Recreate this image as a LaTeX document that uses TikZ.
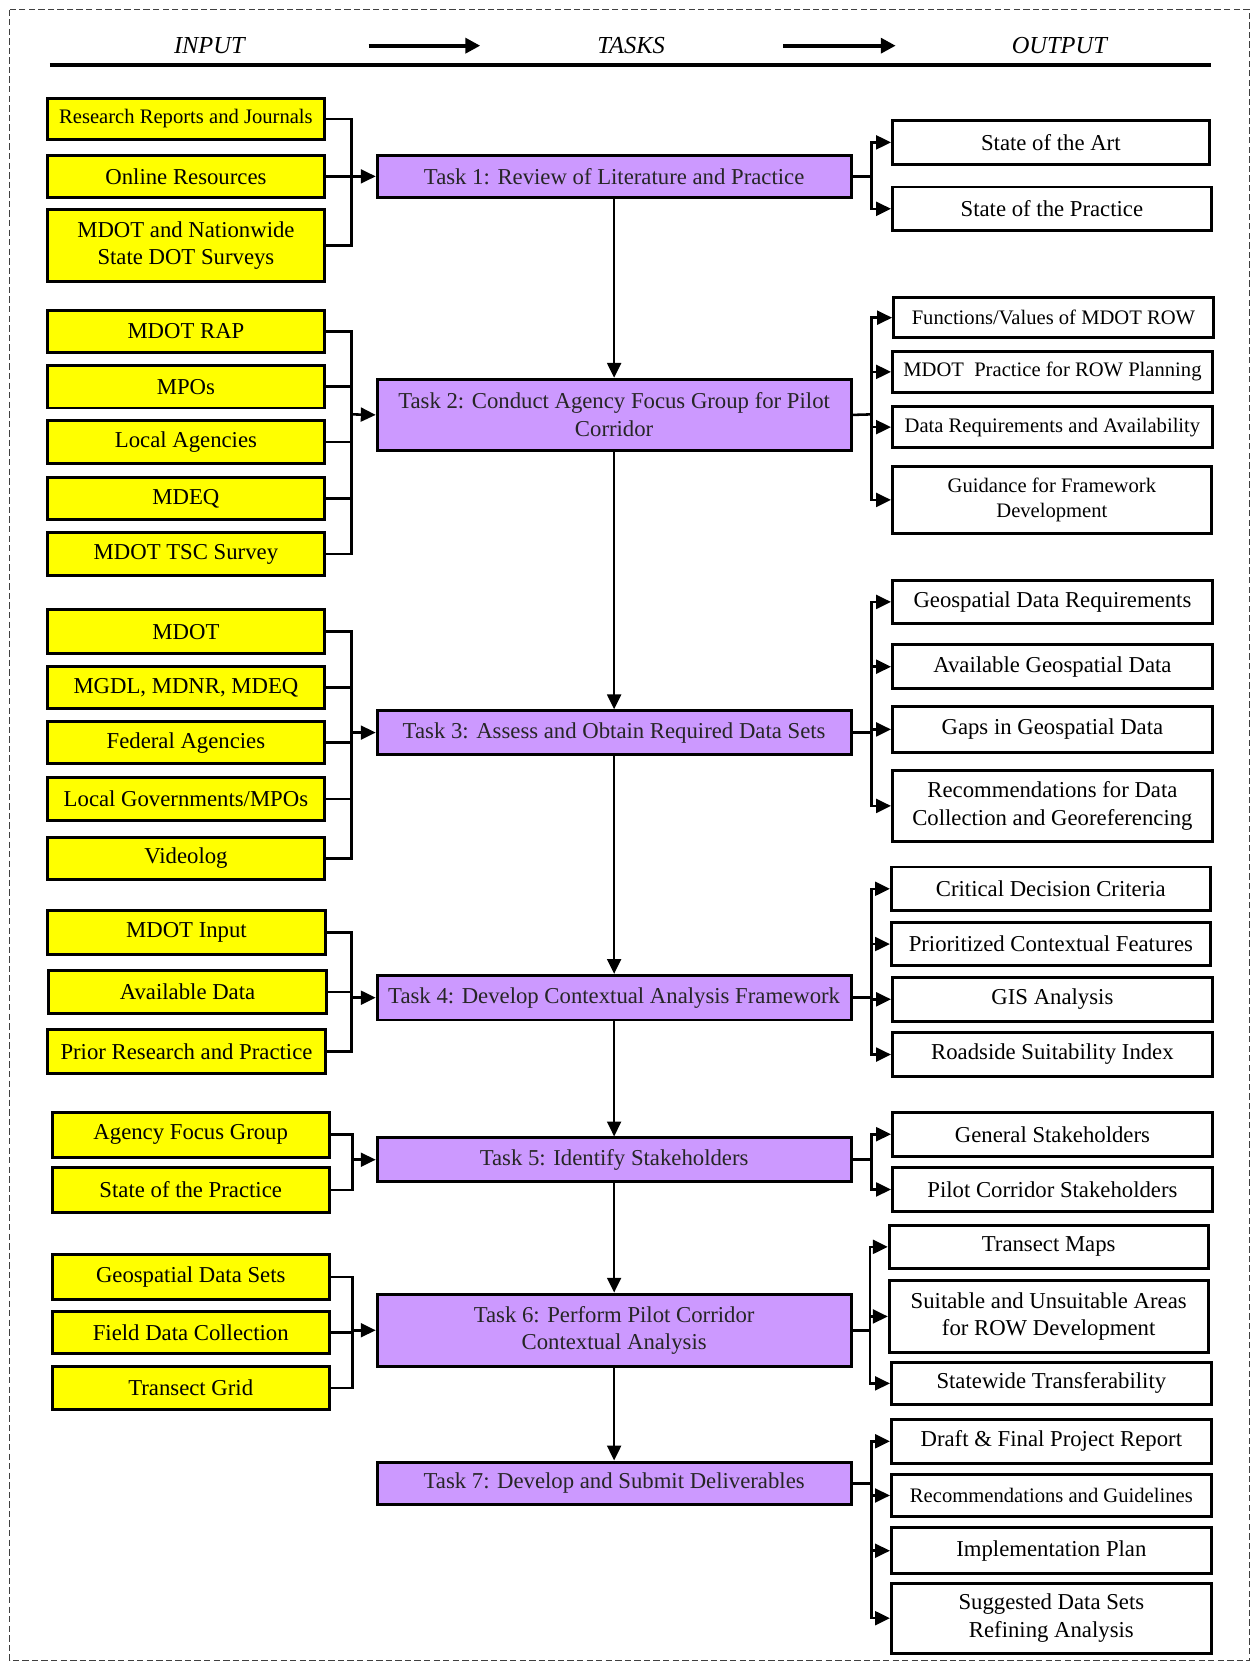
\documentclass[tikz,border=0pt]{standalone}
\usepackage{fontspec}
\setmainfont{Liberation Serif}
\usetikzlibrary{arrows.meta}
\definecolor{inyel}{RGB}{255,255,0}
\definecolor{tskpur}{RGB}{204,153,255}
\newcommand{\mybx}[7]{%
 \pgfmathsetmacro{\mybxcx}{(#3+#5)/2}%
 \pgfmathsetmacro{\mybxcy}{(#4+#6)/2}%
 \pgfmathsetmacro{\mybxw}{(#5-#3)*0.5}%
 \pgfmathsetmacro{\mybxh}{(#6-#4)*0.5}%
 \node[#2, minimum width=\mybxw pt, minimum height=\mybxh pt] (#1) at (\mybxcx,\mybxcy) {#7};}
\begin{document}
\begin{tikzpicture}[x=0.5pt,y=-0.5pt,
  basebox/.style={draw, line width=1.4pt, inner sep=0pt, align=center, font=\fontsize{10.7}{13}\selectfont},
  inbox/.style={basebox, fill=inyel},
  taskbox/.style={basebox, fill=tskpur, text=black!85},
  outbox/.style={basebox, fill=white},
  smalltxt/.style={font=\fontsize{9.7}{12}\selectfont},
  conn/.style={line width=1.2pt},
  arr/.style={conn, -{Triangle[length=7pt,width=6.5pt]}},
  hdr/.style={font=\fontsize{11.5}{13}\selectfont\itshape},
  hdrarr/.style={line width=2pt, -{Triangle[length=7pt,width=7pt]}}]
\useasboundingbox (0,0) rectangle (1181,1568);
% border
\draw[line width=0.6pt, black!75, dash pattern=on 3pt off 1.5pt] (9,9) rectangle (1176,1563);
% header
\node[hdr] (hin) at (197,43) {INPUT};
\node[hdr] (htk) at (594,43) {TASKS};
\node[hdr] (hout) at (997,43) {OUTPUT};
\coordinate (ha1) at (347,43); \coordinate (ha2) at (452,43);
\coordinate (ha3) at (737,43); \coordinate (ha4) at (843,43);
\draw[hdrarr] (ha1) -- (ha2);
\draw[hdrarr] (ha3) -- (ha4);
\coordinate (rl) at (47,61); \coordinate (rr) at (1140,61);
\draw[line width=1.6pt] (rl) -- (rr);

% ---------- Group 1
\mybx{i11}{inbox,smalltxt}{45}{93}{305}{131}{Research Reports and Journals}
\mybx{i12}{inbox}{45}{146}{305}{186}{Online Resources}
\mybx{i13}{inbox}{45}{197}{305}{265}{MDOT and Nationwide\\State DOT Surveys}
\mybx{t1}{taskbox}{355}{146}{801}{186}{Task 1: Review of Literature and Practice}
\mybx{o11}{outbox}{840}{113}{1138}{155}{State of the Art}
\mybx{o12}{outbox}{840}{176}{1140}{217}{State of the Practice}
\coordinate (b1) at (331,166); \coordinate (c1) at (820,166);
\foreach \n in {i11,i12,i13} \draw[conn] (\n.east) -| (b1);
\draw[arr] (b1) -- (t1.west);
\draw[conn] (t1.east) -- (c1);
\foreach \n in {o11,o12} \draw[arr] (c1) |- (\n.west);

% ---------- Group 2
\mybx{i21}{inbox}{45}{292}{305}{332}{MDOT RAP}
\mybx{i22}{inbox}{45}{344}{305}{384}{MPOs}
\mybx{i23}{inbox}{45}{396}{305}{436}{Local Agencies}
\mybx{i24}{inbox}{45}{449}{305}{489}{MDEQ}
\mybx{i25}{inbox}{45}{501}{305}{542}{MDOT TSC Survey}
\mybx{t2}{taskbox}{355}{357}{801}{424}{Task 2: Conduct Agency Focus Group for Pilot\\Corridor}
\mybx{o21}{outbox,smalltxt}{841}{280}{1142}{318}{Functions/Values of MDOT ROW}
\mybx{o22}{outbox,smalltxt}{840}{331}{1141}{369}{MDOT\ \ Practice for ROW Planning}
\mybx{o23}{outbox,smalltxt}{840}{383}{1141}{421}{Data Requirements and Availability}
\mybx{o24}{outbox,smalltxt}{840}{439}{1140}{502}{Guidance for Framework\\Development}
\coordinate (b2) at (331,390); \coordinate (c2) at (820,390);
\foreach \n in {i21,i22,i23,i24,i25} \draw[conn] (\n.east) -| (b2);
\draw[arr] (b2) -- (t2.west);
\draw[conn] (t2.east) -- (c2);
\foreach \n in {o21,o22,o23,o24} \draw[arr] (c2) |- (\n.west);

% ---------- Group 3
\mybx{i31}{inbox}{45}{574}{305}{615}{MDOT}
\mybx{i32}{inbox}{45}{627}{305}{667}{MGDL, MDNR, MDEQ}
\mybx{i33}{inbox}{45}{679}{305}{719}{Federal Agencies}
\mybx{i34}{inbox}{45}{732}{305}{772}{Local Governments/MPOs}
\mybx{i35}{inbox}{45}{788}{305}{828}{Videolog}
\mybx{t3}{taskbox}{355}{669}{801}{710}{Task 3: Assess and Obtain Required Data Sets}
\mybx{o31}{outbox}{840}{546}{1141}{587}{Geospatial Data Requirements}
\mybx{o32}{outbox}{840}{607}{1141}{648}{Available Geospatial Data}
\mybx{o33}{outbox}{840}{665}{1141}{708}{Gaps in Geospatial Data}
\mybx{o34}{outbox}{840}{725}{1141}{792}{Recommendations for Data\\Collection and Georeferencing}
\coordinate (b3) at (331,689.5); \coordinate (c3) at (820,689.5);
\foreach \n in {i31,i32,i33,i34,i35} \draw[conn] (\n.east) -| (b3);
\draw[arr] (b3) -- (t3.west);
\draw[conn] (t3.east) -- (c3);
\foreach \n in {o31,o32,o33,o34} \draw[arr] (c3) |- (\n.west);

% ---------- Group 4
\mybx{i41}{inbox}{45}{857}{306}{898}{MDOT Input}
\mybx{i42}{inbox}{46}{913}{307}{954}{Available Data}
\mybx{i43}{inbox}{45}{969}{306}{1010}{Prior Research and Practice}
\mybx{t4}{taskbox}{355}{918}{801}{960}{Task 4: Develop Contextual Analysis Framework}
\mybx{o41}{outbox}{839}{816}{1139}{857}{Critical Decision Criteria}
\mybx{o42}{outbox}{839}{868}{1139}{909}{Prioritized Contextual Features}
\mybx{o43}{outbox}{840}{920}{1141}{961}{GIS Analysis}
\mybx{o44}{outbox}{840}{972}{1141}{1013}{Roadside Suitability Index}
\coordinate (b4) at (331,939); \coordinate (c4) at (820,939);
\foreach \n in {i41,i42,i43} \draw[conn] (\n.east) -| (b4);
\draw[arr] (b4) -- (t4.west);
\draw[conn] (t4.east) -- (c4);
\foreach \n in {o41,o42,o43,o44} \draw[arr] (c4) |- (\n.west);

% ---------- Group 5
\mybx{i51}{inbox}{49}{1047}{310}{1089}{Agency Focus Group}
\mybx{i52}{inbox}{49}{1099}{310}{1141}{State of the Practice}
\mybx{t5}{taskbox}{355}{1071}{801}{1112}{Task 5: Identify Stakeholders}
\mybx{o51}{outbox}{840}{1047}{1141}{1088}{General Stakeholders}
\mybx{o52}{outbox}{840}{1099}{1141}{1140}{Pilot Corridor Stakeholders}
\coordinate (b5) at (332,1091.5); \coordinate (c5) at (820,1091.5);
\foreach \n in {i51,i52} \draw[conn] (\n.east) -| (b5);
\draw[arr] (b5) -- (t5.west);
\draw[conn] (t5.east) -- (c5);
\foreach \n in {o51,o52} \draw[arr] (c5) |- (\n.west);

% ---------- Group 6
\mybx{i61}{inbox}{49}{1181}{310}{1223}{Geospatial Data Sets}
\mybx{i62}{inbox}{49}{1234}{310}{1274}{Field Data Collection}
\mybx{i63}{inbox}{49}{1286}{310}{1327}{Transect Grid}
\mybx{t6}{taskbox}{355}{1218}{801}{1286}{Task 6: Perform Pilot Corridor\\Contextual Analysis}
\mybx{o61}{outbox}{837}{1153}{1137}{1194}{Transect Maps}
\mybx{o62}{outbox}{837}{1205}{1137}{1273}{Suitable and Unsuitable Areas\\for ROW Development}
\mybx{o63}{outbox}{839}{1282}{1140}{1322}{Statewide Transferability}
\coordinate (b6) at (332,1252); \coordinate (c6) at (819,1252);
\foreach \n in {i61,i62,i63} \draw[conn] (\n.east) -| (b6);
\draw[arr] (b6) -- (t6.west);
\draw[conn] (t6.east) -- (c6);
\foreach \n in {o61,o62,o63} \draw[arr] (c6) |- (\n.west);

% ---------- Group 7
\mybx{t7}{taskbox}{355}{1376}{801}{1416}{Task 7: Develop and Submit Deliverables}
\mybx{o71}{outbox}{839}{1336}{1140}{1377}{Draft \& Final Project Report}
\mybx{o72}{outbox,smalltxt}{839}{1388}{1140}{1427}{Recommendations and Guidelines}
\mybx{o73}{outbox}{839}{1438}{1140}{1481}{Implementation Plan}
\mybx{o74}{outbox}{839}{1490}{1140}{1556}{Suggested Data Sets\\Refining Analysis}
\coordinate (c7) at (820,1396);
\draw[conn] (t7.east) -- (c7);
\foreach \n in {o71,o72,o73,o74} \draw[arr] (c7) |- (\n.west);

% ---------- central flow
\draw[arr] (t1.south) -- (t2.north);
\draw[arr] (t2.south) -- (t3.north);
\draw[arr] (t3.south) -- (t4.north);
\draw[arr] (t4.south) -- (t5.north);
\draw[arr] (t5.south) -- (t6.north);
\draw[arr] (t6.south) -- (t7.north);
\end{tikzpicture}
\end{document}
